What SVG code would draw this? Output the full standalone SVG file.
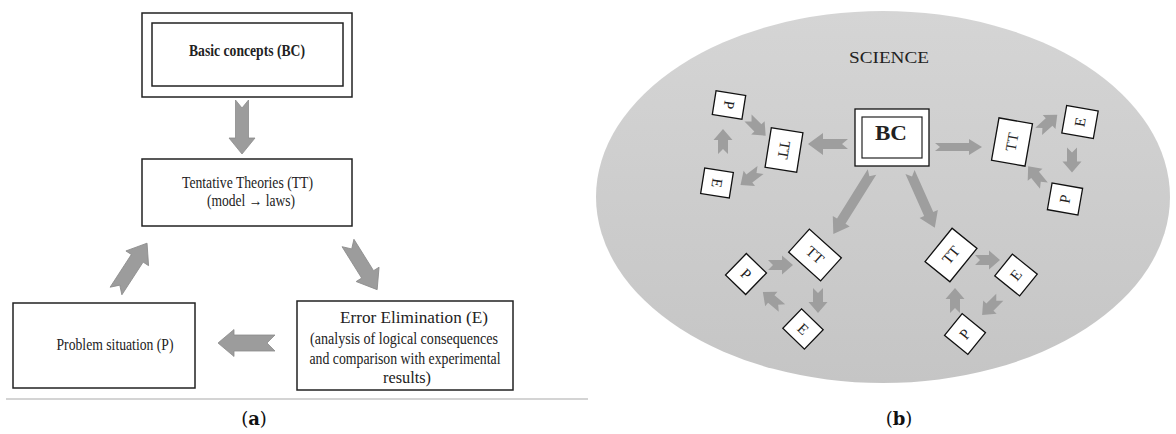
<svg xmlns="http://www.w3.org/2000/svg" xmlns:xlink="http://www.w3.org/1999/xlink" width="1176" height="434" viewBox="0 0 1176 434">
<style>
.box{fill:#fff;stroke:#222;stroke-width:1.5}
.sbox{fill:#fff;stroke:#111;stroke-width:1.3}
.t{font-family:"Liberation Serif","Times New Roman",serif;fill:#222;text-anchor:middle}
.b{font-weight:bold}
.arrA{fill:#9c9c9c;stroke:#8c8c8c;stroke-width:0.8}
.arrB{fill:#9e9e9e}
.cap{font-family:"DejaVu Serif","Liberation Serif",serif;font-size:18px;fill:#111;text-anchor:middle}
</style>
<defs>
<linearGradient id="bg" x1="0" y1="0" x2="0" y2="1">
<stop offset="0" stop-color="#d5d5d5"/>
<stop offset="1" stop-color="#c5c5c5"/>
</linearGradient>
<polygon id="sa" class="arrB" points="0,-5 14,-5 14,-9.5 25,0 14,9.5 14,5 0,5 5,0"/>
</defs>
<rect width="1176" height="434" fill="#fff"/>

<!-- panel (a) -->
<g id="nodeBC_a">
<rect class="box" x="142" y="13" width="210" height="84"/>
<rect class="box" x="152" y="23" width="191" height="63"/>
<text class="t b" x="247" y="56" font-size="16.5" textLength="116" lengthAdjust="spacingAndGlyphs">Basic concepts (BC)</text>
</g>
<g id="nodeTT_a">
<rect class="box" x="142" y="159" width="210" height="67"/>
<text class="t" x="247.5" y="188" font-size="16.5" textLength="131" lengthAdjust="spacingAndGlyphs">Tentative Theories (TT)</text>
<text class="t" x="251" y="206" font-size="16.5" textLength="88" lengthAdjust="spacingAndGlyphs">(model → laws)</text>
</g>
<g id="nodeP_a">
<rect class="box" x="13" y="303" width="182" height="85"/>
<text class="t" x="115" y="350" font-size="16.5" textLength="117" lengthAdjust="spacingAndGlyphs">Problem situation (P)</text>
</g>
<g id="nodeE_a">
<rect class="box" x="297" y="301" width="216" height="89"/>
<text class="t" x="414" y="323" font-size="16.5" textLength="148" lengthAdjust="spacingAndGlyphs">Error Elimination (E)</text>
<text class="t" x="404" y="344" font-size="16.5" textLength="188" lengthAdjust="spacingAndGlyphs">(analysis of logical consequences</text>
<text class="t" x="405" y="364" font-size="16.5" textLength="191" lengthAdjust="spacingAndGlyphs">and comparison with experimental</text>
<text class="t" x="407" y="383" font-size="16.5" textLength="48" lengthAdjust="spacingAndGlyphs">results)</text>
</g>
<line x1="6" y1="399" x2="588" y2="399" stroke="#aaa" stroke-width="1.2"/>
<text class="cap" x="254" y="425">(<tspan font-weight="bold">a</tspan>)</text>

<!-- panel (b) -->
<ellipse cx="883" cy="197" rx="287" ry="186" fill="url(#bg)"/>
<text class="t" x="889" y="63" font-size="16" textLength="80" lengthAdjust="spacingAndGlyphs">SCIENCE</text>

<g id="nodeBC_b">
<rect class="sbox" x="855" y="109" width="74" height="57"/>
<rect x="862" y="117" width="60" height="41" fill="none" stroke="#222" stroke-width="1.2"/>
<text class="t b" x="891" y="140" font-size="20" fill="#111" textLength="32" lengthAdjust="spacingAndGlyphs">BC</text>
</g>

<!-- left cluster -->
<g id="nodeP_l" transform="translate(729,105) rotate(9)">
<rect class="sbox" x="-15" y="-12" width="30" height="24"/>
<text class="t" transform="rotate(90)" y="5" font-size="15">P</text>
</g>
<g id="nodeTT_l" transform="translate(784,150) rotate(9)">
<rect class="sbox" x="-16" y="-20" width="32" height="40"/>
<text class="t" transform="rotate(90)" y="5" font-size="15">TT</text>
</g>
<g id="nodeE_l" transform="translate(717,183) rotate(9)">
<rect class="sbox" x="-14.5" y="-13" width="29" height="26"/>
<text class="t" transform="rotate(90)" y="5" font-size="15">E</text>
</g>

<!-- right cluster -->
<g id="nodeTT_r" transform="translate(1012,142) rotate(10)">
<rect class="sbox" x="-17" y="-21.5" width="34" height="43"/>
<text class="t" transform="rotate(-90)" y="5" font-size="15">TT</text>
</g>
<g id="nodeE_r" transform="translate(1080,122) rotate(10)">
<rect class="sbox" x="-16" y="-14" width="32" height="28"/>
<text class="t" transform="rotate(-90)" y="5" font-size="15">E</text>
</g>
<g id="nodeP_r" transform="translate(1065,199) rotate(10)">
<rect class="sbox" x="-15.5" y="-13.5" width="31" height="27"/>
<text class="t" transform="rotate(-90)" y="5" font-size="15">P</text>
</g>

<!-- bottom-left cluster -->
<g id="nodeTT_bl" transform="translate(815,255) rotate(42)">
<rect class="sbox" x="-21.5" y="-15.5" width="43" height="31"/>
<text class="t" y="5" font-size="15">TT</text>
</g>
<g id="nodeP_bl" transform="translate(746,274) rotate(44)">
<rect class="sbox" x="-14" y="-15" width="28" height="30"/>
<text class="t" y="5" font-size="15">P</text>
</g>
<g id="nodeE_bl" transform="translate(803,329) rotate(44)">
<rect class="sbox" x="-15" y="-13.5" width="30" height="27"/>
<text class="t" y="5" font-size="15">E</text>
</g>

<!-- bottom-right cluster -->
<g id="nodeTT_br" transform="translate(951,255) rotate(-51)">
<rect class="sbox" x="-21.5" y="-16" width="43" height="32"/>
<text class="t" y="5" font-size="15">TT</text>
</g>
<g id="nodeE_br" transform="translate(1016,275) rotate(-51)">
<rect class="sbox" x="-14" y="-16" width="28" height="32"/>
<text class="t" y="5" font-size="15">E</text>
</g>
<g id="nodeP_br" transform="translate(965,334) rotate(-51)">
<rect class="sbox" x="-14" y="-15" width="28" height="30"/>
<text class="t" y="5" font-size="15">P</text>
</g>

<text class="cap" x="899" y="425">(<tspan font-weight="bold">b</tspan>)</text>

<g id="connectors">
<polygon class="arrA" transform="translate(242,100) rotate(90)" points="0,-6.5 38,-6.5 38,-13 54,0 38,13 38,6.5 0,6.5 8,0"/>
<polygon class="arrA" transform="translate(116,291) rotate(-57)" points="0,-7 39,-7 39,-13.5 57,0 39,13.5 39,7 0,7 7,0"/>
<polygon class="arrA" transform="translate(348,243) rotate(58)" points="0,-7 37,-7 37,-13.5 55,0 37,13.5 37,7 0,7 7,0"/>
<polygon class="arrA" transform="translate(275,343) rotate(180)" points="0,-8 41,-8 41,-13.5 57,0 41,13.5 41,8 0,8 8,0"/>

<polygon class="arrB" transform="translate(848,144) rotate(180)" points="0,-5 25,-5 25,-11 40,0 25,11 25,5 0,5 6,0"/>
<polygon class="arrB" transform="translate(935,147)" points="0,-4 34,-4 34,-8 47,0 34,8 34,4 0,4 5,0"/>
<polygon class="arrB" transform="translate(872,172) rotate(122)" points="0,-5 58,-5 58,-10 73,0 58,10 58,5 0,5 5,0"/>
<polygon class="arrB" transform="translate(910,172) rotate(66)" points="0,-5 46,-5 46,-10 61,0 46,10 46,5 0,5 5,0"/>

<use xlink:href="#sa" transform="translate(748,118) rotate(45)"/>
<use xlink:href="#sa" transform="translate(760.5,170) rotate(143)"/>
<use xlink:href="#sa" transform="translate(723,154) rotate(-90)"/>

<use xlink:href="#sa" transform="translate(1038.7,131.4) rotate(-42)"/>
<use xlink:href="#sa" transform="translate(1072,147.5) rotate(90)"/>
<use xlink:href="#sa" transform="translate(1043.9,185.7) rotate(-129)"/>

<use xlink:href="#sa" transform="translate(768,265)"/>
<use xlink:href="#sa" transform="translate(818,288) rotate(90)"/>
<use xlink:href="#sa" transform="translate(782,308) rotate(-140)"/>

<use xlink:href="#sa" transform="translate(975,260)"/>
<use xlink:href="#sa" transform="translate(999.8,297.2) rotate(135)"/>
<use xlink:href="#sa" transform="translate(955,313) rotate(-90)"/>
</g>
</svg>
